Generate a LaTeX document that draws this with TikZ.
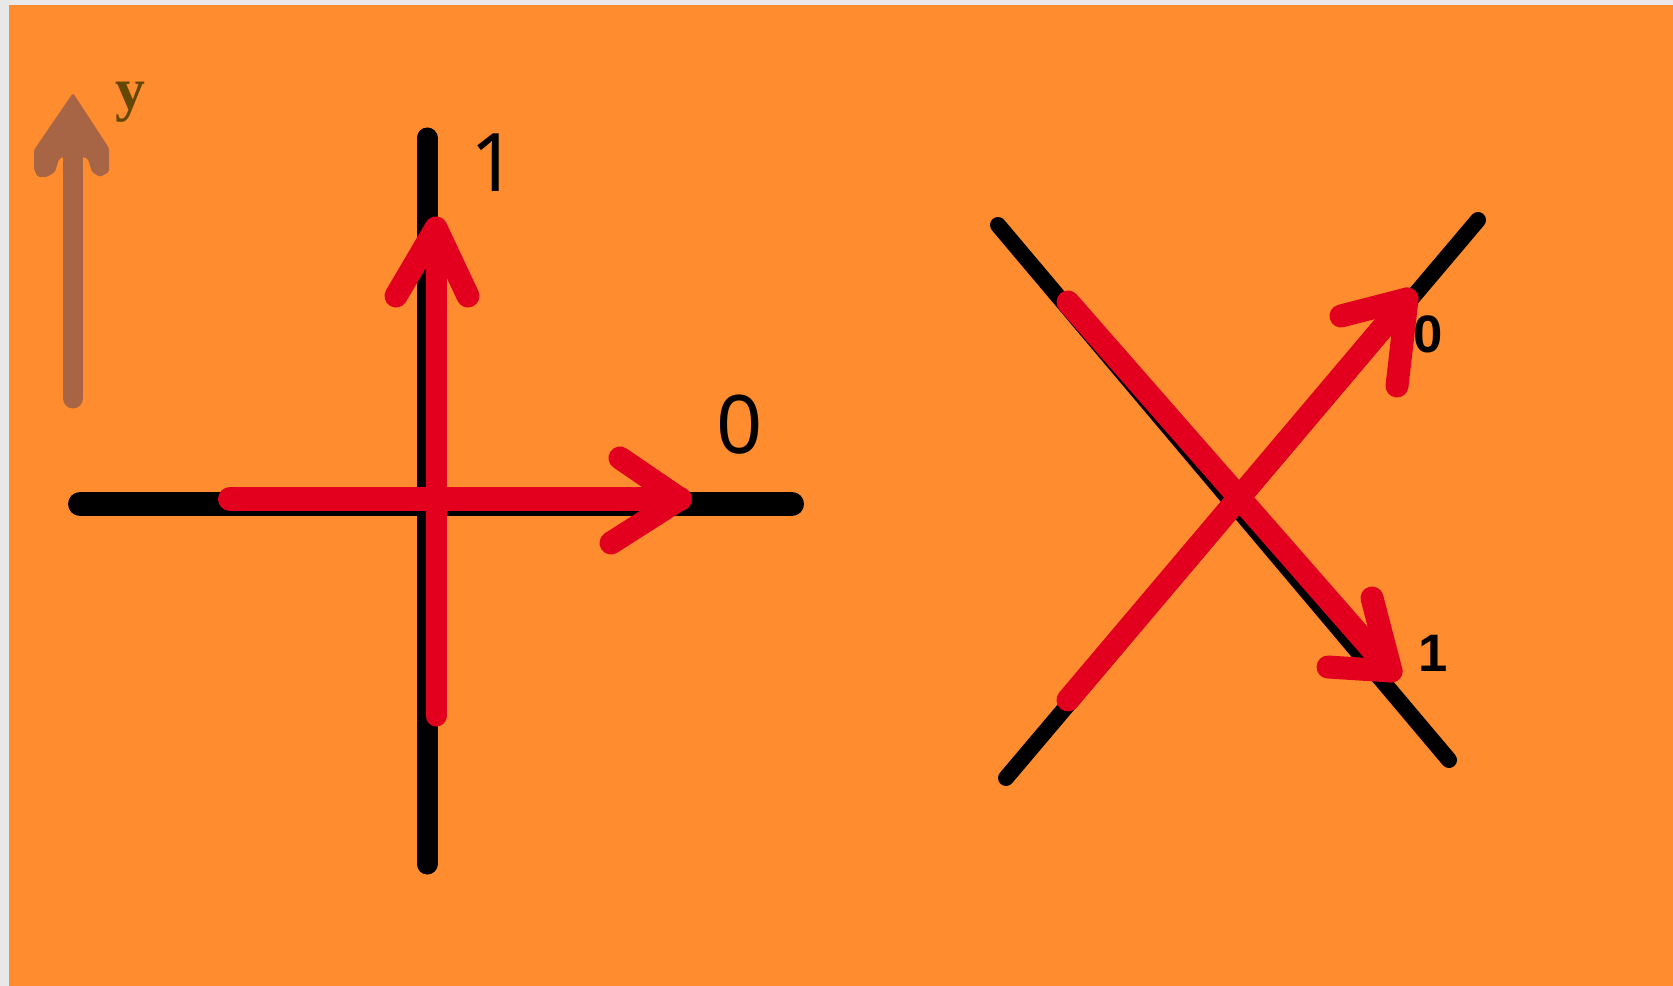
\documentclass[tikz,border=0pt]{standalone}
\usepackage{fontspec}
\setmainfont{Liberation Sans}
\newfontfamily\serifface{Liberation Serif}
\newfontfamily\labface{Noto Sans}
\definecolor{bgorange}{RGB}{255,140,46}
\definecolor{bggrey}{RGB}{232,232,232}
\definecolor{arrred}{RGB}{226,0,30}
\definecolor{arrbrown}{RGB}{168,101,69}
\definecolor{ylab}{RGB}{100,70,5}
\begin{document}
\begin{tikzpicture}[x=0.02cm,y=-0.02cm,
  blackline/.style={draw=black,line width=0.48cm,line cap=round},
  vblackline/.style={draw=black,line width=0.42cm,line cap=round},
  diagline/.style={draw=black,line width=0.32cm,line cap=round},
  redline/.style={draw=arrred,line width=0.48cm,line cap=round},
  vredline/.style={draw=arrred,line width=0.42cm,line cap=round},
  dredline/.style={draw=arrred,line width=0.46cm,line cap=round},
  redwing/.style={draw=arrred,line width=0.46cm,line cap=round,line join=round},
  brownline/.style={draw=arrbrown,line width=0.42cm,line cap=round},
  brownhead/.style={fill=arrbrown,rounded corners=1pt},
  biglab/.style={inner sep=0pt,font=\labface\fontsize{46}{50}\selectfont},
  smalllab/.style={inner sep=0pt,font=\fontsize{30}{32}\selectfont\bfseries},
  ylabel/.style={inner sep=0pt,text=ylab,font=\serifface\bfseries\fontsize{34}{36}\selectfont}]
\useasboundingbox (0,0) rectangle (1673,986);
\fill[bggrey] (0,0) rectangle (1673,986);
\fill[bgorange] (9,5) rectangle (1673,986);
% brown y arrow
\coordinate (ybot) at (73,398);
\coordinate (ytip) at (73,93);
\coordinate (yhead) at (73,150);
\draw[brownline] (ybot) -- (yhead);
\fill[brownhead] (ytip) -- (109,148) -- (109,172) -- (100,177) -- (92,172) -- (88,159) -- (84,157)
  -- (63,157) -- (59,159) -- (55,172) -- (47,177) -- (38,177) -- (34,170) -- (34,150) -- cycle;
\node[ylabel] (ylab) at (130,102) {y};
% plus: black axes
\coordinate (hl) at (80,504);
\coordinate (hr) at (792,504);
\coordinate (vt) at (427,138);
\coordinate (vb) at (427,864);
\draw[blackline] (hl) -- (hr);
\draw[vblackline] (vt) -- (vb);
% red arrows on plus
\coordinate (r0s) at (230,499);
\coordinate (r0t) at (680,499);
\coordinate (r0w1) at (620,458);
\coordinate (r0w2) at (611,543);
\draw[redline] (r0s) -- (r0t);
\draw[redwing] (r0w1) -- (r0t) -- (r0w2);
\coordinate (r1s) at (436,716);
\coordinate (r1t) at (436,228);
\coordinate (r1w1) at (396,296);
\coordinate (r1w2) at (468,296);
\draw[vredline] (r1s) -- (r1t);
\draw[redwing] (r1w1) -- (r1t) -- (r1w2);
\node[biglab] (one) at (494,163) {1};
\node[biglab] (zero) at (740,425) {0};
% X: black diagonals
\coordinate (d1a) at (998,225);
\coordinate (d1b) at (1449,760);
\coordinate (d2a) at (1006,778);
\coordinate (d2b) at (1478,220);
\draw[diagline] (d1a) -- (d1b);
\draw[diagline] (d2a) -- (d2b);
% red diagonals
\coordinate (e1s) at (1068,302);
\coordinate (e1t) at (1391,671);
\coordinate (e1w1) at (1372,598);
\coordinate (e1w2) at (1328,667);
\draw[dredline] (e1s) -- (e1t);
\draw[redwing] (e1w1) -- (e1t) -- (e1w2);
\coordinate (e2s) at (1068,700);
\coordinate (e2t) at (1407,299);
\coordinate (e2w1) at (1341,316);
\coordinate (e2w2) at (1397,386);
\draw[dredline] (e2s) -- (e2t);
\draw[redwing] (e2w1) -- (e2t) -- (e2w2);
\node[smalllab] (zerob) at (1428,334) {0};
\node[smalllab] (oneb) at (1433,653) {1};
\end{tikzpicture}
\end{document}
